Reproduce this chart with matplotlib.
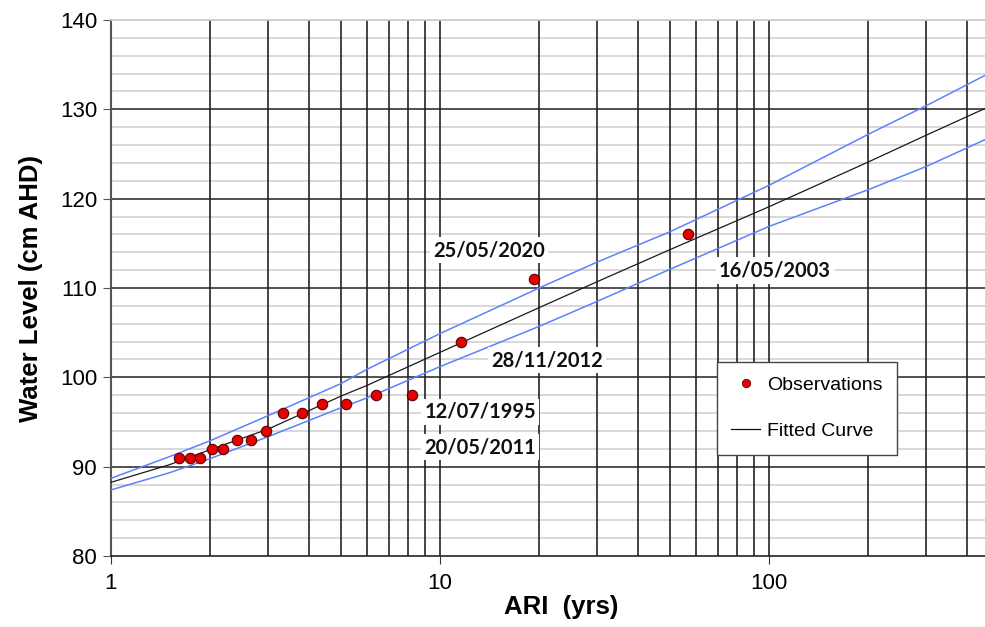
import matplotlib
matplotlib.use("Agg")
import matplotlib.pyplot as plt
from matplotlib.ticker import FixedLocator, NullFormatter
from matplotlib.lines import Line2D

# ---- data ----
obs_ari = [1.61, 1.74, 1.865, 2.03, 2.19, 2.415, 2.665, 2.96, 3.33, 3.81,
           4.38, 5.18, 6.39, 8.22, 11.58, 19.3, 56.7]
obs_level = [91, 91, 91, 92, 92, 93, 93, 94, 96, 96, 97, 97, 98, 98, 104, 111, 116]

curve_ari = [1, 1.5, 2, 3, 5, 6, 10, 20, 30, 50, 100, 200, 300, 453]
fitted = [88.25, 90.2, 91.9, 94.2, 97.9, 99.1, 102.8, 107.8, 110.7, 114.3, 119.1, 124.1, 127.1, 130.1]
upper = [88.7, 91.1, 92.9, 95.7, 99.3, 100.9, 104.9, 110.0, 112.9, 116.3, 121.5, 127.2, 130.4, 133.8]
lower = [87.4, 89.3, 90.9, 93.35, 96.6, 97.7, 101.2, 105.7, 108.5, 112.1, 116.9, 121.0, 123.6, 126.6]

labels = ["25/05/2020", "16/05/2003", "28/11/2012", "12/07/1995", "20/05/2011"]
label_pos = [(14.09, 114.25), (104.3, 112.0), (21.15, 101.94), (13.23, 96.12), (13.23, 92.2)]

x_ticks = [1, 10, 100]
y_ticks = [80, 90, 100, 110, 120, 130, 140]

# ---- figure ----
fig = plt.figure(figsize=(9.85, 6.27), dpi=100)
ax = fig.add_axes([111 / 985, (627 - 556) / 627, 874 / 985, 536 / 627])

ax.set_xscale("log")
ax.set_xlim(1, 453)
ax.set_ylim(80, 140)

minor_x = [m * d for d in (1, 10, 100) for m in range(2, 10) if m * d < 453]
minor_y = [v for v in range(82, 140, 2) if v % 10 != 0]
ax.xaxis.set_major_locator(FixedLocator(x_ticks))
ax.xaxis.set_minor_locator(FixedLocator(minor_x))
ax.xaxis.set_minor_formatter(NullFormatter())
ax.set_xticklabels([str(t) for t in x_ticks])
ax.yaxis.set_major_locator(FixedLocator(y_ticks))

# grid drawn explicitly so that the layering matches
for v in minor_y:
    ax.axhline(v, color="#d6d6d6", lw=1.3, zorder=0.5)
for v in minor_x + x_ticks[1:]:
    ax.axvline(v, color="#111111", lw=1.1, zorder=1)
for v in y_ticks[1:-1]:
    ax.axhline(v, color="#222222", lw=1.1, zorder=1.1)

ax.tick_params(axis="x", which="major", length=6, direction="out", color="#333333",
               labelsize=16, pad=6)
ax.tick_params(axis="x", which="minor", length=0)
ax.tick_params(axis="y", which="major", length=6, direction="out", color="#555555",
               labelsize=16, pad=4)
for lab in ax.get_xticklabels() + ax.get_yticklabels():
    lab.set_family("Liberation Sans")

ax.spines["top"].set_color("#cccccc")
ax.spines["top"].set_linewidth(1.3)
ax.spines["right"].set_visible(False)
ax.spines["left"].set_color("#555555")
ax.spines["left"].set_linewidth(1.5)
ax.spines["bottom"].set_color("#222222")
ax.spines["bottom"].set_linewidth(1.2)

# curves
ax.plot(curve_ari, upper, color="#5b82ff", lw=1.1, zorder=3)
ax.plot(curve_ari, lower, color="#5b82ff", lw=1.1, zorder=3)
ax.plot(curve_ari, fitted, color="#1a1a1a", lw=0.9, zorder=3)
ax.plot(obs_ari, obs_level, linestyle="none", marker="o", ms=7.5,
        mfc="#e60000", mec="#5a0000", mew=0.8, zorder=4)

for txt, (x, y) in zip(labels, label_pos):
    ax.text(x, y, txt, ha="center", va="center", fontsize=14.5, fontweight="bold",
            family="Lato", color="#111111", zorder=5,
            bbox=dict(facecolor="white", edgecolor="none", pad=2.5))

ax.set_xlabel("ARI  (yrs)", fontsize=18.5, fontweight="bold", family="Liberation Sans")
ax.xaxis.set_label_coords(0.515, -0.096, transform=ax.transAxes)
ax.xaxis.label.set_va("center")
ax.xaxis.label.set_ha("center")
ax.set_ylabel("Water Level (cm AHD)", fontsize=18.5, fontweight="bold",
              family="Liberation Sans", labelpad=12)

handles = [Line2D([], [], linestyle="none", marker="o", ms=6, mfc="#e60000",
                  mec="#5a0000", mew=0.6),
           Line2D([], [], color="#111111", lw=0.9)]
leg = ax.legend(handles, ["Observations", "Fitted Curve"], loc="upper left",
                bbox_to_anchor=(0.693, 0.362), frameon=True, fancybox=False,
                edgecolor="#444444", framealpha=1, handlelength=1.5,
                labelspacing=1.45, borderpad=0.75, handletextpad=0.35,
                borderaxespad=0, prop={"family": "Liberation Sans", "size": 14})
leg.get_frame().set_linewidth(1.0)
leg.set_zorder(6)

fig.savefig("out.png", dpi=100)
